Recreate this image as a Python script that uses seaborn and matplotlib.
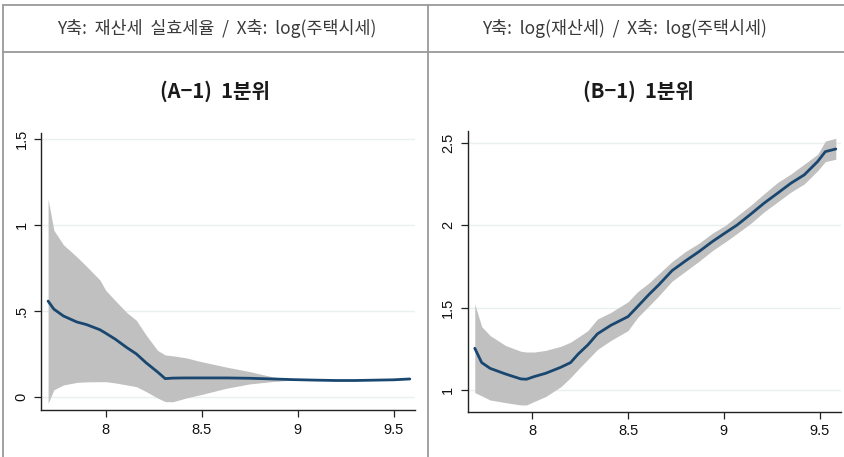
import numpy as np
import pandas as pd
import matplotlib
matplotlib.use("Agg")
import matplotlib.pyplot as plt
from matplotlib.lines import Line2D
import seaborn as sns

# Panel A: effective property-tax rate vs log(house price), local fit with CI band
xa = [7.70, 7.73, 7.78, 7.85, 7.90, 7.97, 8.00, 8.05, 8.11, 8.16, 8.21, 8.27,
      8.31, 8.35, 8.42, 8.49, 8.63, 8.75, 8.87, 8.98, 9.10, 9.20, 9.30, 9.40,
      9.50, 9.585]
ya = [0.557, 0.510, 0.470, 0.435, 0.420, 0.390, 0.370, 0.335, 0.286, 0.249,
      0.198, 0.144, 0.105, 0.108, 0.109, 0.109, 0.109, 0.107, 0.103, 0.099,
      0.096, 0.094, 0.094, 0.096, 0.098, 0.103]
ya_hi = [1.152, 0.970, 0.885, 0.815, 0.760, 0.680, 0.620, 0.560, 0.490, 0.445,
         0.360, 0.270, 0.243, 0.238, 0.226, 0.206, 0.172, 0.146, 0.115, 0.099,
         0.096, 0.094, 0.094, 0.096, 0.098, 0.103]
ya_lo = [-0.039, 0.040, 0.068, 0.083, 0.086, 0.087, 0.087, 0.080, 0.068, 0.058,
         0.030, -0.008, -0.029, -0.030, -0.008, 0.010, 0.049, 0.074, 0.088,
         0.097, 0.096, 0.094, 0.094, 0.096, 0.098, 0.103]

# Panel B: log(property tax) vs log(house price)
xb = [7.70, 7.736, 7.78, 7.86, 7.94, 7.97, 8.01, 8.07, 8.15, 8.20, 8.24, 8.29,
      8.34, 8.41, 8.50, 8.55, 8.61, 8.66, 8.73, 8.80, 8.87, 8.94, 9.01, 9.07,
      9.14, 9.21, 9.28, 9.35, 9.42, 9.49, 9.53, 9.585]
yb = [1.253, 1.166, 1.131, 1.097, 1.067, 1.065, 1.081, 1.101, 1.138, 1.166,
      1.218, 1.273, 1.340, 1.392, 1.445, 1.506, 1.580, 1.637, 1.724, 1.783,
      1.839, 1.900, 1.955, 2.001, 2.066, 2.133, 2.193, 2.254, 2.305, 2.386,
      2.446, 2.462]
yb_hi = [1.522, 1.384, 1.330, 1.270, 1.235, 1.230, 1.230, 1.240, 1.265, 1.290,
         1.320, 1.360, 1.430, 1.470, 1.535, 1.596, 1.650, 1.704, 1.779, 1.840,
         1.890, 1.951, 2.000, 2.056, 2.120, 2.190, 2.258, 2.310, 2.370, 2.430,
         2.510, 2.527]
yb_lo = [0.984, 0.964, 0.939, 0.923, 0.909, 0.909, 0.930, 0.960, 1.020, 1.075,
         1.125, 1.185, 1.245, 1.300, 1.360, 1.440, 1.510, 1.570, 1.660, 1.720,
         1.780, 1.845, 1.900, 1.950, 2.010, 2.080, 2.140, 2.200, 2.250, 2.330,
         2.385, 2.400]

header_texts = ["Y축:  재산세  실효세율  /  X축:  log(주택시세)",
                "Y축:  log(재산세)  /  X축:  log(주택시세)"]
panel_titles = ["(A−1)  1분위", "(B−1)  1분위"]
xticks = [8, 8.5, 9, 9.5]
xtick_labels = ["8", "8.5", "9", "9.5"]
yticks_a = [0, 0.5, 1, 1.5]
ytick_labels_a = ["0", ".5", "1", "1.5"]
yticks_b = [1, 1.5, 2, 2.5]
ytick_labels_b = ["1", "1.5", "2", "2.5"]

sns.set_style("white")
plt.rcParams["font.family"] = ["Liberation Sans", "Noto Sans CJK KR", "DejaVu Sans"]

LINE_COLOR = "#1a476f"
BAND_COLOR = "#c0c0c0"
GRID_COLOR = "#eaf0f1"
FRAME_COLOR = "#9a9a9a"

fig = plt.figure(figsize=(8.45, 4.57), dpi=100)
W, H = 845, 457


def px_axes(x0, y0, x1, y1):
    return fig.add_axes([x0 / W, 1 - y1 / H, (x1 - x0) / W, (y1 - y0) / H])


ax_a = px_axes(41, 133, 415, 410)
ax_b = px_axes(467.7, 130.7, 841, 411.7)

panels = [
    (ax_a, xa, ya, ya_lo, ya_hi, (-0.078, 1.537), yticks_a, ytick_labels_a),
    (ax_b, xb, yb, yb_lo, yb_hi, (0.868, 2.573), yticks_b, ytick_labels_b),
]

for ax, x, y, lo, hi, ylim, yt, ytl in panels:
    df = pd.DataFrame({"x": x, "y": y, "lo": lo, "hi": hi})
    ax.fill_between(df["x"], df["lo"], df["hi"], color=BAND_COLOR, lw=0, zorder=1)
    sns.lineplot(data=df, x="x", y="y", ax=ax, color=LINE_COLOR, lw=2.0,
                 zorder=3, estimator=None, sort=False)
    ax.set_xlim(7.663, 9.612)
    ax.set_ylim(*ylim)
    ax.set_xticks(xticks)
    ax.set_xticklabels(xtick_labels)
    ax.set_yticks(yt)
    ax.set_yticklabels(ytl, rotation=90, va="center")
    ax.set_xlabel("")
    ax.set_ylabel("")
    for yy in yt:
        ax.axhline(yy, color=GRID_COLOR, lw=1.0, zorder=0)
    for s in ["top", "right"]:
        ax.spines[s].set_visible(False)
    for s in ["left", "bottom"]:
        ax.spines[s].set_color("#222222")
        ax.spines[s].set_linewidth(1.0)
    ax.tick_params(axis="both", direction="out", length=5, width=0.9,
                   color="#222222", labelsize=10.5, labelcolor="#111111", pad=4)
    ax.tick_params(axis="y", left=True)
    ax.tick_params(axis="x", bottom=True)
    ax.set_facecolor("white")

# panel titles
title_family = ["Liberation Sans", "Noto Sans CJK KR", "DejaVu Sans"]
cjk_family = ["Noto Sans CJK KR", "DejaVu Sans"]
fig.text(215 / W, 1 - 91 / H, panel_titles[0], ha="center", va="center",
         fontsize=14.5, fontweight="bold", color="#1a1a1a", family=cjk_family)
fig.text(638 / W, 1 - 91 / H, panel_titles[1], ha="center", va="center",
         fontsize=14.5, fontweight="bold", color="#1a1a1a", family=cjk_family)

# header row text
fig.text(217 / W, 1 - 28 / H, header_texts[0], ha="center", va="center",
         fontsize=12.5, color="#3a3a3a", family=cjk_family)
fig.text(625 / W, 1 - 28 / H, header_texts[1], ha="center", va="center",
         fontsize=12.5, color="#3a3a3a", family=cjk_family)

# table frame
frame = [
    ((3.3, W), (5, 5)),
    ((3.3, W), (52, 52)),
    ((3.3, 3.3), (5, H)),
    ((427.7, 427.7), (5, H)),
]
for (x0, x1), (y0, y1) in frame:
    fig.add_artist(Line2D([x0 / W, x1 / W], [1 - y0 / H, 1 - y1 / H],
                          color=FRAME_COLOR, lw=1.3, transform=fig.transFigure))

fig.savefig("out.png", dpi=100, facecolor="white")
